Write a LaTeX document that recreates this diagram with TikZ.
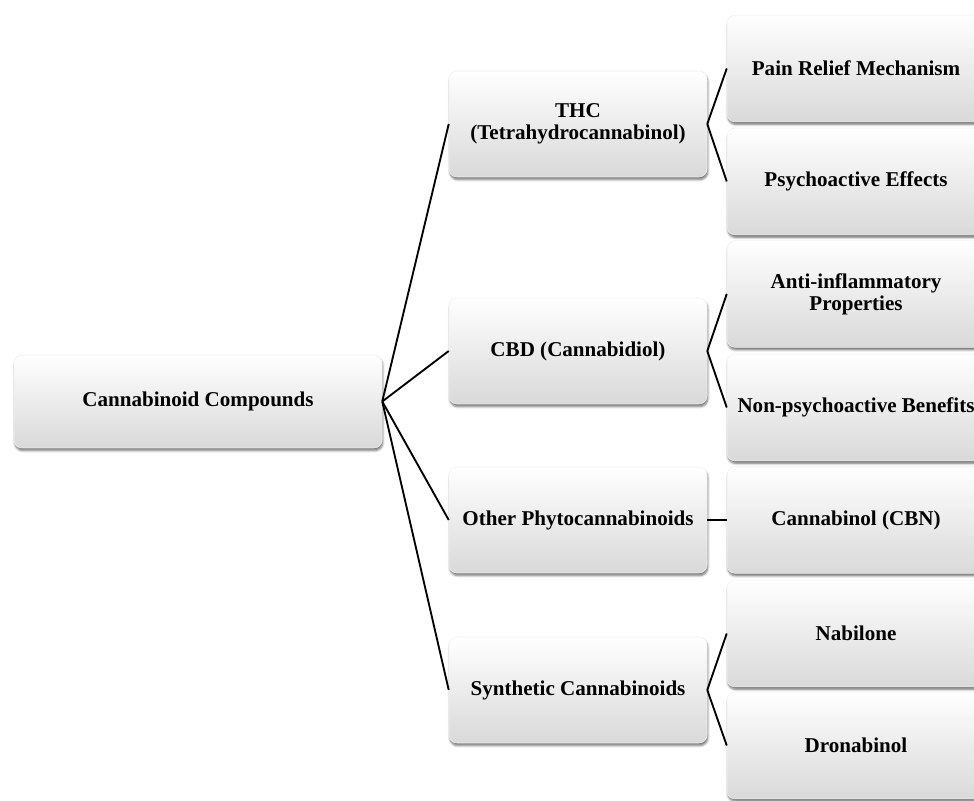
\documentclass[tikz,border=0pt]{standalone}
\usepackage{fontspec}
\setmainfont{Liberation Serif}
\usepackage{tikz}
\usetikzlibrary{shadows.blur}

\begin{document}
\begin{tikzpicture}[x=0.75pt, y=0.75pt,
  box/.style={rounded corners=6pt, draw=black!6, line width=0.4pt,
    top color=white, middle color=white, bottom color=black!15,
    blur shadow={shadow xshift=0.6pt, shadow yshift=-2pt, shadow blur steps=5, shadow blur radius=1.6pt, shadow opacity=55},
    align=center, font=\fontsize{15.8}{16.5}\selectfont\bfseries},
  rootbox/.style={box, minimum width=276pt, minimum height=69.75pt},
  midbox/.style={box, minimum width=193.5pt, minimum height=79.5pt},
  leafbox/.style={box, minimum width=193.5pt, minimum height=80pt},
  link/.style={line width=1.4pt, black}]

\clip (0,0) rectangle (974,800);

% Root
\node[rootbox] (root) at (198, 398.5) {Cannabinoid Compounds};

% Compound classes
\node[midbox] (thc) at (578, 676) {THC\\(Tetrahydrocannabinol)};
\node[midbox] (cbd) at (578, 449) {CBD (Cannabidiol)};
\node[midbox] (other) at (578, 280) {Other Phytocannabinoids};
\node[midbox] (synth) at (578, 110) {Synthetic Cannabinoids};

% Properties and examples
\node[leafbox] (pain) at (856, 731.5) {Pain Relief Mechanism};
\node[leafbox] (psycho) at (856, 618.5) {Psychoactive Effects};
\node[leafbox] (anti) at (856, 506) {Anti-inflammatory\\Properties};
\node[leafbox] (nonpsycho) at (856, 392.5) {Non-psychoactive Benefits};
\node[leafbox] (cbn) at (856, 280) {Cannabinol (CBN)};
\node[leafbox] (nabilone) at (856, 166.5) {Nabilone};
\node[leafbox] (dronabinol) at (856, 54.5) {Dronabinol};

% Connectors
\draw[link] (root.east) -- (thc.west);
\draw[link] (root.east) -- (cbd.west);
\draw[link] (root.east) -- (other.west);
\draw[link] (root.east) -- (synth.west);

\draw[link] (thc.east) -- (pain.west);
\draw[link] (thc.east) -- (psycho.west);
\draw[link] (cbd.east) -- (anti.west);
\draw[link] (cbd.east) -- (nonpsycho.west);
\draw[link] (other.east) -- (cbn.west);
\draw[link] (synth.east) -- (nabilone.west);
\draw[link] (synth.east) -- (dronabinol.west);

\end{tikzpicture}
\end{document}
